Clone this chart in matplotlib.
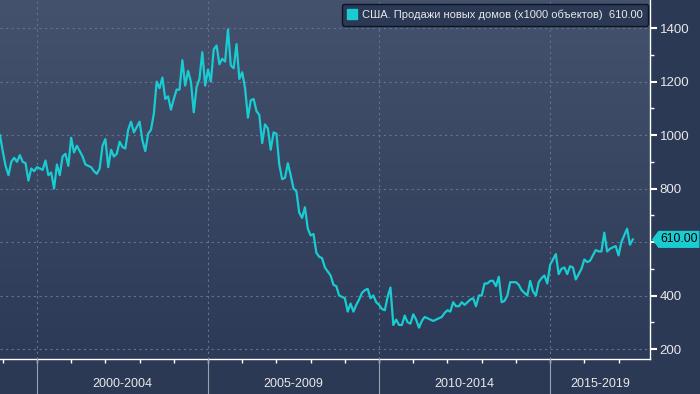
import numpy as np
import pandas as pd
import matplotlib
matplotlib.use("Agg")
import matplotlib.pyplot as plt
from matplotlib.lines import Line2D
from matplotlib.patches import Polygon
import matplotlib.transforms as mtransforms

plt.rcParams['font.family'] = ['Liberation Sans', 'DejaVu Sans']

# --- Данные: продажи новых домов в США (тыс.), помесячно, дек.1998 - июн.2017 ---
start = "1998-12-01"
sales = [
    1000, 940, 885, 850, 900, 915, 900, 925, 900, 895, 830, 875, 865,
    880, 875, 870, 905, 850, 860, 800, 890, 850, 920, 930, 885,
    990, 935, 960, 940, 920, 890, 885, 880, 865, 855, 875, 960,
    985, 880, 945, 920, 930, 975, 955, 950, 1020, 1050, 1010, 1030,
    1050, 980, 940, 1005, 1020, 1080, 1200, 1175, 1215, 1135, 1145, 1095,
    1135, 1170, 1170, 1280, 1185, 1240, 1200, 1085, 1180, 1210, 1310, 1185,
    1245, 1200, 1320, 1335, 1265, 1285, 1275, 1395, 1260, 1250, 1340, 1210,
    1235, 1175, 1065, 1130, 1135, 1090, 1075, 970, 1040, 1025, 945, 1010,
    1005, 890, 835, 840, 895, 850, 800, 790, 710, 690, 730, 650,
    625, 630, 560, 545, 540, 505, 490, 475, 440, 435, 400, 395,
    390, 340, 370, 340, 365, 385, 410, 420, 425, 390, 400, 375,
    365, 350, 345, 395, 430, 290, 310, 290, 290, 325, 300, 295,
    330, 310, 280, 305, 320, 315, 310, 305, 310, 315, 320, 335,
    345, 340, 375, 360, 360, 375, 365, 375, 385, 390, 360, 400,
    400, 445, 445, 455, 455, 435, 470, 375, 380, 400, 450, 450,
    450, 440, 420, 410, 400, 455, 415, 400, 450, 465, 475, 445,
    515, 535, 555, 480, 500, 505, 480, 510, 505, 460, 480, 500,
    535, 525, 530, 550, 570, 565, 565, 635, 565, 575, 580, 585,
    550, 600, 625, 650, 590, 610,
]
dates = pd.date_range(start, periods=len(sales), freq="MS")

periods = ["2000-2004", "2005-2009", "2010-2014", "2015-2019"]
period_starts = [2000, 2005, 2010, 2015]
y_major = [200, 400, 600, 800, 1000, 1200, 1400]
last_value = sales[-1]
series_label = "США. Продажи новых домов (x1000 объектов)"

# --- Стиль ---
CYAN = "#19ccd2"
BG_DARK = "#2b3954"
BG_TOP = "#44526d"
BG_BOT = "#2c3a57"
GRID = "#60758f"
TXT = "#e8e8e8"


def year_num(d):
    return d.year + (d.month - 1) / 12.0


x = np.array([year_num(d) for d in dates])

fig = plt.figure(figsize=(7, 3.94), dpi=100, facecolor=BG_DARK)
ax = fig.add_axes([0.0, 0.089, 0.9286, 0.911])
ax.set_facecolor(BG_DARK)

x0, x1 = 1998.92, 2017.92
ax.set_xlim(x0, x1)
ax.set_ylim(163, 1505)

# градиентный фон области графика
grad = np.linspace(0, 1, 256).reshape(-1, 1)
cmap = matplotlib.colors.LinearSegmentedColormap.from_list("bg", [BG_TOP, BG_BOT])
ax.imshow(grad, aspect="auto", cmap=cmap, extent=[0, 1, 0, 1],
          transform=ax.transAxes, zorder=0, origin="upper")

# сетка
for yv in y_major:
    ax.axhline(yv, color=GRID, lw=0.8, ls=(0, (2, 3)), zorder=1)
for ps in period_starts:
    ax.axvline(ps, color=GRID, lw=0.8, ls=(0, (2, 3)), zorder=1)

ax.plot(x, sales, color=CYAN, lw=1.6, zorder=3)

# оси
for side in ["left", "top"]:
    ax.spines[side].set_visible(False)
ax.spines["right"].set_color("white")
ax.spines["bottom"].set_color("white")
ax.spines["right"].set_linewidth(1.0)
ax.spines["bottom"].set_linewidth(1.0)

ax.yaxis.tick_right()
ax.set_yticks(y_major)
# подпись 600 закрыта меткой последнего значения
ax.set_yticklabels(["" if v == 600 else str(v) for v in y_major])
ax.set_yticks(np.arange(300, 1500, 200), minor=True)
ax.tick_params(axis="y", which="major", colors="white", length=5, width=1.5,
               direction="out", labelsize=9.5, labelcolor=TXT, pad=2)
ax.tick_params(axis="y", which="minor", colors="white", length=3, width=1,
               direction="out")

ax.set_xticks(np.arange(1999, 2018, 1))
ax.set_xticklabels([])
ax.tick_params(axis="x", which="major", colors="white", length=3, width=1,
               direction="out")

# разделители периодов и подписи под осью
trans = mtransforms.blended_transform_factory(ax.transData, ax.transAxes)
bounds = period_starts + [x1]
for i, ps in enumerate(period_starts):
    ax.plot([ps, ps], [0, -0.11], transform=trans, color="#9aa3b2",
            lw=0.8, clip_on=False, zorder=4)
    cx = (bounds[i] + bounds[i + 1]) / 2.0
    ax.text(cx, -0.07, periods[i], transform=trans, ha="center", va="center",
            color=TXT, fontsize=9)

# метка последнего значения
ttag = mtransforms.blended_transform_factory(ax.transAxes, ax.transData)
tag = Polygon([[1.003, last_value], [1.013, last_value + 32], [1.076, last_value + 32],
               [1.076, last_value - 32], [1.013, last_value - 32]],
              closed=True, transform=ttag, facecolor=CYAN, edgecolor="none",
              clip_on=False, zorder=5)
ax.add_patch(tag)
ax.text(1.045, last_value, f"{last_value:.2f}", transform=ttag, ha="center",
        va="center", color="black", fontsize=8.8, zorder=6)

# легенда
handle = Line2D([], [], marker="s", color=CYAN, ls="None", markersize=7.5)
leg = ax.legend([handle], [f"{series_label}  {last_value:.2f}"],
                loc="upper right", bbox_to_anchor=(1.006, 1.004),
                frameon=True, fancybox=True, fontsize=8,
                handlelength=0.8, handletextpad=0.5, borderpad=0.5,
                labelcolor=TXT)
leg.get_frame().set_facecolor(BG_DARK)
leg.get_frame().set_edgecolor("#0e1420")
leg.get_frame().set_alpha(1.0)
leg.get_frame().set_linewidth(1.0)

fig.savefig("out.png", dpi=100, facecolor=BG_DARK)
